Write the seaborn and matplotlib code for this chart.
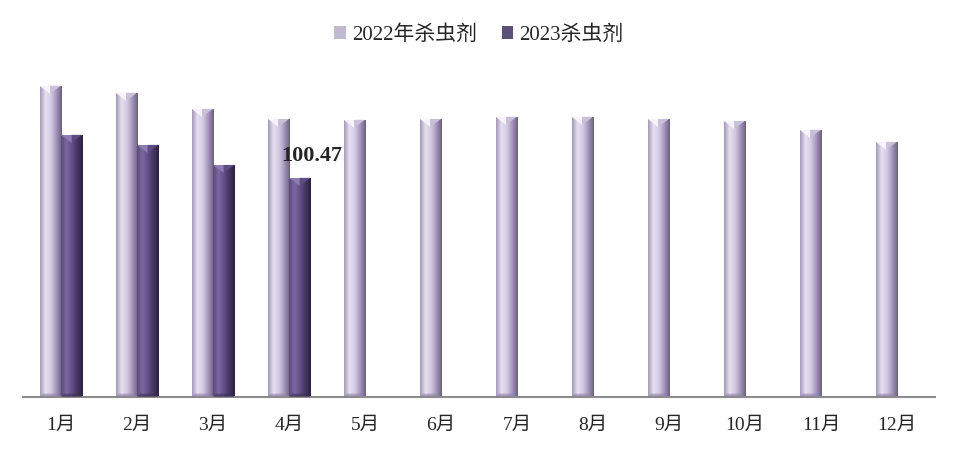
import numpy as np
import pandas as pd
import matplotlib
matplotlib.use("Agg")
import matplotlib.pyplot as plt
from matplotlib.colors import LinearSegmentedColormap
from matplotlib.patches import Polygon
import seaborn as sns

months = ["1月", "2月", "3月", "4月", "5月", "6月", "7月", "8月", "9月", "10月", "11月", "12月"]
val_2022 = [142.7, 139.5, 132.1, 127.5, 127.1, 127.5, 128.5, 128.5, 127.5, 126.6, 122.5, 117.0]
val_2023 = [120.2, 115.6, 106.4, 100.47, None, None, None, None, None, None, None, None]
series = ["2022年杀虫剂", "2023杀虫剂"]

df = pd.DataFrame({
    "month": months * 2,
    "series": [series[0]] * 12 + [series[1]] * 12,
    "value": val_2022 + val_2023,
}).dropna()

sns.set_theme(style="white")
plt.rcParams["font.family"] = ["Liberation Serif", "Noto Sans CJK SC", "DejaVu Sans"]

base = {series[0]: "#c0b5d4", series[1]: "#5c4a80"}
cmaps = {
    series[0]: LinearSegmentedColormap.from_list(
        "c22", ["#a397b8", "#e6e0f0", "#d3cae3", "#a395ba", "#6a5e80"]),
    series[1]: LinearSegmentedColormap.from_list(
        "c23", ["#5a4a7d", "#7b69a2", "#614f88", "#46375f", "#2c2140"]),
}
tips_l = {series[0]: "#f6f3fb", series[1]: "#8e7cb3"}
tips_r = {series[0]: "#c9c0da", series[1]: "#5e4c84"}

fig = plt.figure(figsize=(9.58, 4.5), dpi=100)
ax = fig.add_axes([0.024, 0.1178, 0.952, 0.727])

sns.barplot(data=df, x="month", y="value", hue="series", order=months,
            hue_order=series, palette=base, width=0.56, gap=0,
            edgecolor="none", ax=ax)

ax.set_ylim(0, 150)
ax.set_xlim(-0.5, 11.5)

grad = np.linspace(0, 1, 256).reshape(1, -1)
for name, cont in zip(series, ax.containers):
    for p in cont.patches:
        h = p.get_height()
        if not np.isfinite(h) or h <= 0:
            continue
        x0, w = p.get_x(), p.get_width()
        x1 = x0 + w
        xm = x0 + w / 2
        im = ax.imshow(grad, cmap=cmaps[name], aspect="auto",
                       extent=[x0, x1, 0, h], zorder=2)
        im.set_clip_path(p)
        d = 3.6
        # bevelled tip
        ax.add_patch(Polygon([[x0, h], [xm, h], [xm, h - d]], closed=True,
                             facecolor=tips_l[name], edgecolor="none", zorder=3))
        ax.add_patch(Polygon([[xm, h], [x1, h], [xm, h - d]], closed=True,
                             facecolor=tips_r[name], edgecolor="none", zorder=3))
        ax.add_patch(Polygon([[x0, 0], [x1, 0], [x1 - w * 0.15, 1.5], [x0 + w * 0.15, 1.5]],
                             closed=True, facecolor=cmaps[name](0.85),
                             edgecolor="none", alpha=0.6, zorder=3))

# data label on April 2023
apr = ax.containers[1].patches[3]
ax.text(apr.get_x() + apr.get_width() / 2 + 0.16, apr.get_height() + 5.5, "100.47",
        ha="center", va="bottom", fontsize=16, fontweight="bold",
        family=["Liberation Serif", "DejaVu Serif"])

ax.set_xlabel("")
ax.set_ylabel("")
ax.set_yticks([])
ax.tick_params(axis="x", labelsize=14, pad=14, length=0)
for s in ["top", "right", "left"]:
    ax.spines[s].set_visible(False)
ax.spines["bottom"].set_color("#8c8c8c")
ax.spines["bottom"].set_linewidth(1.5)

sns.move_legend(ax, "upper center", bbox_to_anchor=(0.5, 0.985), bbox_transform=fig.transFigure,
                ncol=2, frameon=False, title=None, fontsize=15,
                handlelength=0.55, handleheight=0.55, handletextpad=0.3, columnspacing=1.2)

fig.savefig("out.png", dpi=100)
